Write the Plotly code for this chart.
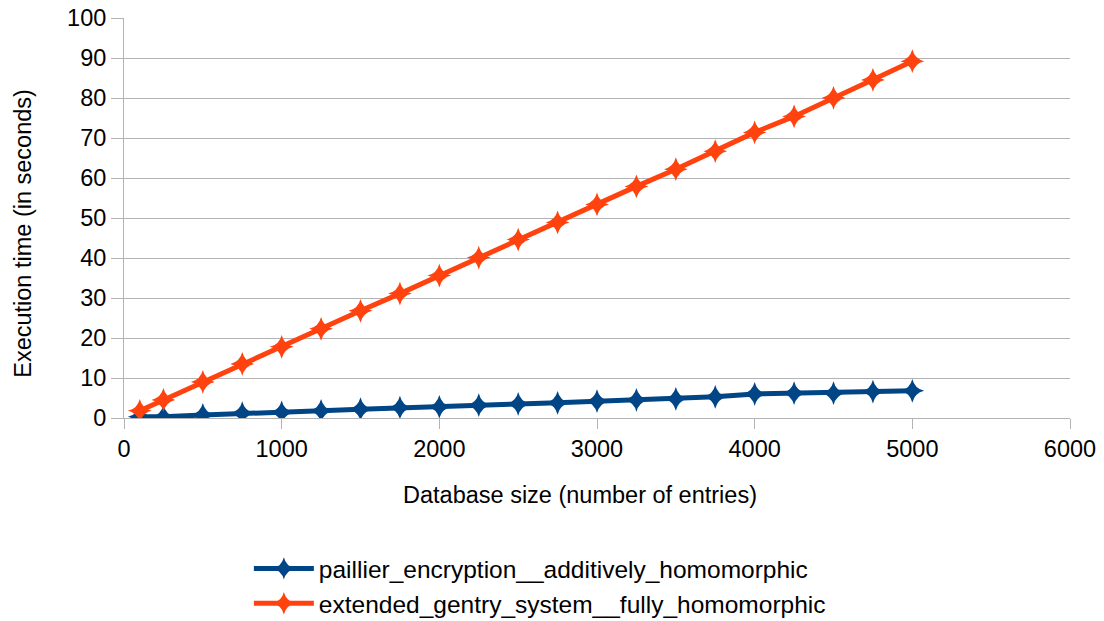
import plotly.graph_objects as go

db_size = [100, 250, 500, 750, 1000, 1250, 1500, 1750, 2000, 2250, 2500,
           2750, 3000, 3250, 3500, 3750, 4000, 4250, 4500, 4750, 5000]
paillier = [0.3, 0.3, 0.75, 1.2, 1.4, 1.8, 2.2, 2.6, 2.8, 3.2, 3.5,
            3.8, 4.2, 4.5, 4.8, 5.3, 6.0, 6.2, 6.2, 6.6, 6.8]
gentry = [1.8, 4.5, 9.0, 13.5, 17.8, 22.3, 26.8, 31.1, 35.6, 40.1, 44.6,
          48.9, 53.4, 57.9, 62.2, 66.7, 71.4, 75.4, 80.0, 84.5, 89.2]

names = ["paillier_encryption__additively_homomorphic",
         "extended_gentry_system__fully_homomorphic"]
colors = ["#004586", "#ff420e"]
x_title = "Database size (number of entries)"
y_title = "Execution time (in seconds)"

fig = go.Figure()
for i, (y, name, c) in enumerate(zip([paillier, gentry], names, colors)):
    fig.add_trace(go.Scatter(
        x=db_size, y=y, name=name, mode="lines+markers",
        line=dict(color=c, width=5),
        marker=dict(symbol="star-diamond", size=17, color=c),
    ))

FAM = "Liberation Sans, Arial, sans-serif"
fig.update_layout(
    width=1104, height=621,
    margin=dict(l=124, r=34, t=18, b=203, autoexpand=False),
    plot_bgcolor="white", paper_bgcolor="white",
    font=dict(family=FAM, size=23.5, color="#000000"),
    showlegend=True,
    legend=dict(orientation="v", x=0.132, xanchor="left", y=-0.32, yanchor="top",
                font=dict(family=FAM, size=24.5, color="#000000"),
                itemwidth=60, tracegroupgap=0),
    xaxis=dict(range=[0, 6000], tickvals=[0, 1000, 2000, 3000, 4000, 5000, 6000],
               showgrid=False, showline=True, linecolor="#b3b3b3", linewidth=1,
               ticks="outside", ticklen=10, tickcolor="#b3b3b3", zeroline=False,
               automargin=False, ticklabeloverflow="allow",
               tickfont=dict(family=FAM, size=23.5)),
    yaxis=dict(range=[0, 100], tickvals=list(range(0, 101, 10)), showgrid=True,
               gridcolor="#b3b3b3",
               gridwidth=1, showline=True, linecolor="#b3b3b3", linewidth=1,
               ticks="outside", ticklen=12, tickcolor="#b3b3b3", zeroline=False,
               automargin=False, ticklabeloverflow="allow",
               tickfont=dict(family=FAM, size=23.5)),
    annotations=[
        dict(text=x_title, xref="paper", yref="paper", x=0.482, y=-0.1925,
             xanchor="center", yanchor="middle", showarrow=False,
             font=dict(family=FAM, size=23.5, color="#000000")),
        dict(text=y_title, xref="paper", yref="paper", x=-0.107, y=0.4625,
             xanchor="center", yanchor="middle", showarrow=False, textangle=-90,
             font=dict(family=FAM, size=23.5, color="#000000")),
    ],
)
fig.write_html("out.html", config={"displayModeBar": False},
               post_script="document.body.style.margin='0';document.body.style.overflow='hidden';")
